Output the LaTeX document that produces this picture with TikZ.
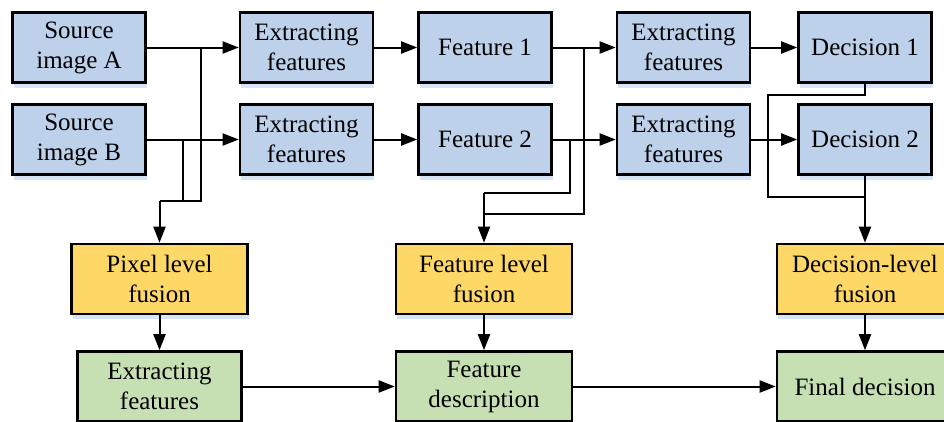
\documentclass[tikz,border=0pt]{standalone}
\usepackage{fontspec}
\newfontfamily\boxfont{LiberationSerif}[Extension=.ttf, UprightFont=*-Regular]
\usetikzlibrary{arrows.meta,shadows}
\definecolor{boxblue}{HTML}{BDD1EA}
\definecolor{boxyellow}{HTML}{FDD866}
\definecolor{boxgreen}{HTML}{C6E0B4}
\definecolor{shadeblue}{HTML}{D6E4F5}
\tikzset{
  box/.style={draw=black, line width=2.6pt, inner sep=0pt, align=center,
    font=\boxfont\fontsize{25}{30}\selectfont,
    drop shadow={shadow xshift=1pt, shadow yshift=-5pt, fill=shadeblue, opacity=1}},
  bluebox/.style={box, fill=boxblue, minimum width=133pt, minimum height=70pt},
  yellowbox/.style={box, fill=boxyellow, minimum width=176pt, minimum height=70pt},
  greenbox/.style={box, fill=boxgreen, minimum width=176pt, minimum height=70pt},
  link/.style={draw=black, line width=2pt},
  arrowlink/.style={link, -{Triangle[length=16pt, width=12pt]}},
}
\begin{document}
\begin{tikzpicture}[x=1pt, y=-1pt]
  \clip (0,0) rectangle (944,421);
  \fill[white] (0,0) rectangle (944,421);

  % top two rows
  \node[bluebox] (srcA) at (79,47.5) {Source\\image A};
  \node[bluebox] (srcB) at (79,139.5) {Source\\image B};
  \node[bluebox] (exA) at (306.5,47.5) {Extracting\\features};
  \node[bluebox] (exB) at (306.5,139.5) {Extracting\\features};
  \node[bluebox] (f1) at (485,47.5) {Feature 1};
  \node[bluebox] (f2) at (485,139.5) {Feature 2};
  \node[bluebox] (exC) at (683.5,47.5) {Extracting\\features};
  \node[bluebox] (exD) at (683.5,139.5) {Extracting\\features};
  \node[bluebox] (dec1) at (865,47.5) {Decision 1};
  \node[bluebox] (dec2) at (865,139.5) {Decision 2};

  % fusion row
  \node[yellowbox] (pix) at (159.5,279) {Pixel level\\fusion};
  \node[yellowbox] (featf) at (484,279) {Feature level\\fusion};
  \node[yellowbox] (decf) at (865,279) {Decision-level\\fusion};

  % result row
  \node[greenbox, minimum width=164pt] (exG) at (159.5,386.5) {Extracting\\features};
  \node[greenbox] (fdesc) at (484,386.5) {Feature\\description};
  \node[greenbox] (final) at (865,386.5) {Final decision};

  % junction points
  \coordinate (jA) at (201,47.5);
  \coordinate (jB) at (183,139.5);
  \coordinate (jP) at (159.5,201);
  \coordinate (j1) at (584,47.5);
  \coordinate (j2) at (570,139.5);
  \coordinate (jF1) at (484,214);
  \coordinate (jF2) at (484,193);
  \coordinate (jD) at (768,95);
  \coordinate (jDm) at (865,197);

  % main flow
  \draw[arrowlink] (srcA) -- (exA);
  \draw[arrowlink] (srcB) -- (exB);
  \draw[arrowlink] (exA) -- (f1);
  \draw[arrowlink] (exB) -- (f2);
  \draw[arrowlink] (f1) -- (exC);
  \draw[arrowlink] (f2) -- (exD);
  \draw[arrowlink] (exC) -- (dec1);
  \draw[arrowlink] (exD) -- (dec2);

  % pixel level branch
  \draw[link] (jA) |- (jP);
  \draw[link] (jB) -- (jB |- jP);
  \draw[arrowlink] (jP) -- (pix.north);

  % feature level branch
  \draw[link] (j1) |- (jF1);
  \draw[link] (j2) |- (jF2);
  \draw[arrowlink] (jF2) -- (featf.north);

  % decision level branch
  \draw[link] (dec1.south) |- (jD) |- (jDm);
  \draw[arrowlink] (dec2.south) -- (decf.north);

  % lower flow
  \draw[arrowlink] (pix) -- (exG);
  \draw[arrowlink] (featf) -- (fdesc);
  \draw[arrowlink] (decf) -- (final);
  \draw[arrowlink] (exG) -- (fdesc);
  \draw[arrowlink] (fdesc) -- (final);
\end{tikzpicture}
\end{document}
